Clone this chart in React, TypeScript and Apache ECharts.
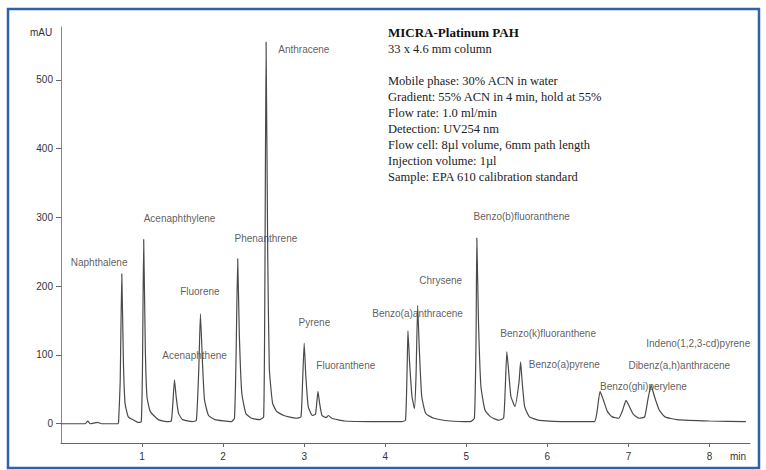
import React, { useEffect, useRef } from "react";
import * as echarts from "echarts";

const signal: [number, number][] = [
  [0, 0], [0.3, 0], [0.33, 4], [0.36, 0], [0.45, 2], [0.5, 0], [0.7, 0],
  [0.71, 2], [0.73, 60], [0.75, 218], [0.77, 90], [0.79, 30], [0.83, 10], [0.9, 5], [0.95, 2],
  [0.99, 3], [1.005, 80], [1.02, 268], [1.04, 110], [1.06, 40], [1.1, 18], [1.2, 6], [1.3, 3],
  [1.36, 4], [1.38, 30], [1.4, 64], [1.42, 40], [1.45, 15], [1.5, 6], [1.62, 3],
  [1.67, 5], [1.7, 80], [1.72, 160], [1.745, 90], [1.77, 35], [1.82, 12], [1.9, 6], [2.1, 3],
  [2.14, 8], [2.16, 100], [2.18, 240], [2.2, 130], [2.23, 45], [2.28, 15], [2.35, 8], [2.45, 6],
  [2.5, 10], [2.515, 200], [2.53, 555], [2.55, 250], [2.57, 80], [2.61, 30], [2.66, 18], [2.75, 12], [2.9, 8],
  [2.96, 10], [2.98, 60], [3.0, 117], [3.02, 70], [3.05, 25], [3.1, 12],
  [3.14, 14], [3.17, 47], [3.19, 30], [3.22, 12], [3.27, 9], [3.3, 12], [3.34, 8], [3.5, 4], [4.0, 3], [4.2, 3],
  [4.25, 5], [4.27, 80], [4.28, 135], [4.3, 90], [4.33, 40], [4.36, 22],
  [4.38, 70], [4.4, 172], [4.42, 110], [4.45, 40], [4.5, 15], [4.6, 8], [4.8, 4], [5.05, 3],
  [5.1, 8], [5.12, 120], [5.13, 270], [5.15, 150], [5.18, 55], [5.23, 20], [5.3, 10], [5.4, 5], [5.46, 8],
  [5.48, 50], [5.5, 105], [5.52, 80], [5.55, 40], [5.6, 25],
  [5.65, 60], [5.67, 90], [5.69, 60], [5.72, 25], [5.78, 10], [5.9, 5], [6.3, 3], [6.58, 3],
  [6.61, 15], [6.65, 47], [6.69, 35], [6.74, 18], [6.8, 10], [6.88, 8],
  [6.93, 20], [6.97, 34], [7.0, 28], [7.06, 14], [7.13, 8], [7.2, 10],
  [7.24, 35], [7.28, 56], [7.32, 40], [7.38, 20], [7.45, 10], [7.6, 6], [8.0, 4], [8.45, 3],
];

const peakLabels: [string, number, number][] = [
  ["Naphthalene", 0.12, 235],
  ["Acenaphthylene", 1.02, 299],
  ["Acenaphthene", 1.25, 99],
  ["Fluorene", 1.47, 192],
  ["Phenanthrene", 2.14, 269],
  ["Anthracene", 2.68, 545],
  ["Pyrene", 2.93, 147],
  ["Fluoranthene", 3.15, 84],
  ["Benzo(a)anthracene", 3.84, 161],
  ["Chrysene", 4.42, 208],
  ["Benzo(b)fluoranthene", 5.09, 301],
  ["Benzo(k)fluoranthene", 5.42, 131],
  ["Benzo(a)pyrene", 5.77, 86],
  ["Benzo(ghi)perylene", 6.65, 54],
  ["Dibenz(a,h)anthracene", 7.0, 84],
  ["Indeno(1,2,3-cd)pyrene", 7.22, 116],
];

const yTicks = [0, 100, 200, 300, 400, 500];
const xTicks = [1, 2, 3, 4, 5, 6, 7, 8];

const infoTitle = "MICRA-Platinum PAH";
const infoLines = [
  "33 x 4.6 mm column",
  "",
  "Mobile phase: 30% ACN in water",
  "Gradient: 55% ACN in 4 min, hold at 55%",
  "Flow rate: 1.0 ml/min",
  "Detection: UV254 nm",
  "Flow cell: 8µl volume, 6mm path length",
  "Injection volume: 1µl",
  "Sample: EPA 610 calibration standard",
];

export default function App() {
  const ref = useRef<HTMLDivElement>(null);
  useEffect(() => {
    const chart = echarts.init(ref.current!, null, { renderer: "svg" });
    const serif = "'Liberation Serif', 'DejaVu Serif', serif";
    const sans = "Arial, 'Liberation Sans', sans-serif";
    chart.setOption({
      animation: false,
      backgroundColor: "#ffffff",
      grid: { left: 61, right: 16, top: 27, bottom: 27 },
      xAxis: {
        type: "value", min: 0, max: 8.5,
        name: "min", nameLocation: "end", nameGap: -20,
        nameTextStyle: { color: "#333", fontSize: 10, verticalAlign: "top", padding: [8, 0, 0, 0] },
        axisLine: { show: true, onZero: false, lineStyle: { color: "#666" } },
        axisTick: { show: true, customValues: xTicks, length: 4, lineStyle: { color: "#666" } },
        axisLabel: { customValues: xTicks, color: "#333", fontSize: 10, fontFamily: sans },
        splitLine: { show: false },
      },
      yAxis: {
        type: "value", min: -28, max: 577,
        axisLine: { show: true, lineStyle: { color: "#888" } },
        axisTick: { show: true, customValues: yTicks, length: 5, lineStyle: { color: "#666" } },
        axisLabel: { customValues: yTicks, color: "#333", fontSize: 10, fontFamily: sans },
        splitLine: { show: false },
      },
      series: [
        {
          type: "line", data: signal, showSymbol: false, smooth: 0.15,
          lineStyle: { color: "#4a4a4a", width: 1.2 },
        },
        {
          type: "scatter", data: peakLabels.map((p) => ({ name: p[0], value: [p[1], p[2]] })),
          symbolSize: 0,
          label: {
            show: true, position: "inside", align: "left", verticalAlign: "middle",
            formatter: (p: any) => p.name, color: "#333", fontSize: 10, fontFamily: sans,
          },
        },
      ],
      graphic: [
        { type: "rect", shape: { x: 8, y: 9, width: 751, height: 459 }, style: { fill: "none", stroke: "#2b63ad", lineWidth: 2.5 } },
        { type: "text", x: 30, y: 27, style: { text: "mAU", fontSize: 10, fill: "#333", fontFamily: sans } },
        { type: "text", x: 388, y: 26, style: { text: infoTitle, fontSize: 13, fontWeight: "bold", fill: "#111", fontFamily: serif } },
        ...infoLines.map((t, i) => ({
          type: "text", x: 388, y: 42 + i * 16,
          style: { text: t, fontSize: 12.5, fill: "#222", fontFamily: serif },
        })),
      ],
    });
    return () => chart.dispose();
  }, []);
  return <div ref={ref} style={{ position: "fixed", left: 0, top: 0, width: 766, height: 470 }} />;
}
